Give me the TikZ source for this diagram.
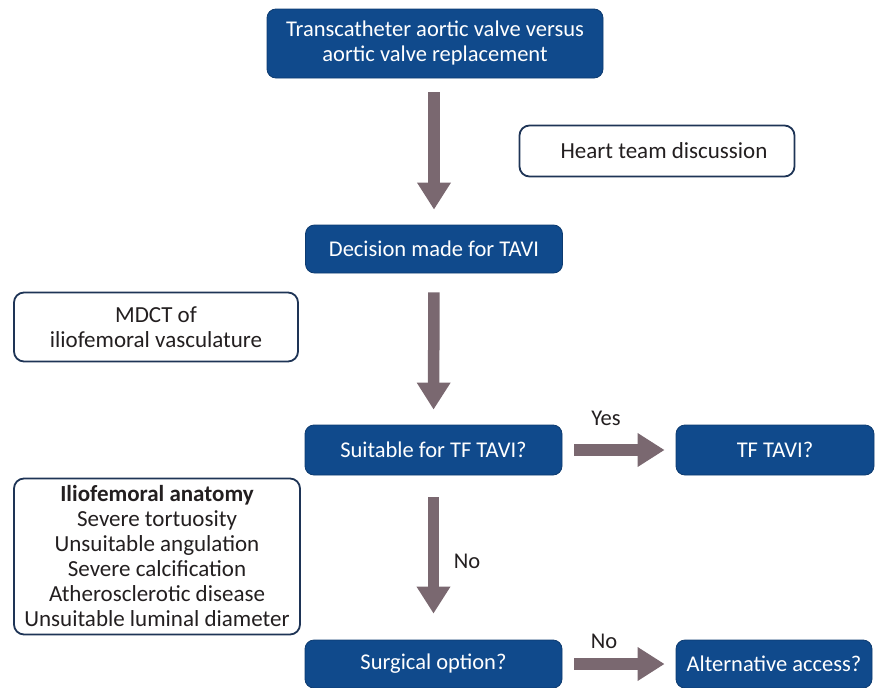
\documentclass[tikz,border=0pt]{standalone}
\usepackage{fontspec}
\setmainfont{Carlito}
\usetikzlibrary{arrows.meta}
\definecolor{boxblue}{RGB}{16,74,140}
\definecolor{navy}{RGB}{30,52,86}
\definecolor{arrgrey}{RGB}{122,104,112}
\definecolor{txt}{RGB}{35,31,32}
\tikzset{
  bluebox/.style={draw=boxblue!80!black, line width=0.8pt, fill=boxblue, rounded corners=9pt, text=white, align=center, inner sep=0pt, font=\fontsize{22.5}{25}\selectfont},
  whitebox/.style={draw=navy, line width=1.8pt, fill=white, rounded corners=10pt, text=txt, align=center, inner sep=0pt, font=\fontsize{23}{25}\selectfont},
  bigarrow/.style={draw=arrgrey, line width=11.5pt, -{Triangle[width=32pt,length=27pt]}},
  lbl/.style={text=txt, font=\fontsize{22.5}{25}\selectfont, inner sep=0pt}
}
\begin{document}
\begin{tikzpicture}[x=1pt,y=-1pt]
\useasboundingbox (0,0) rectangle (876,688);
\node[bluebox, minimum width=336pt, minimum height=69pt] (top) at (435,43.5) {Transcatheter aortic valve versus\\aortic valve replacement};
\node[whitebox, minimum width=275pt, minimum height=51pt] (heart) at (657,151) {\hspace*{14pt}Heart team discussion};
\node[bluebox, minimum width=257pt, minimum height=48pt] (dec) at (434,249) {Decision made for TAVI};
\node[whitebox, minimum width=284pt, minimum height=69pt] (mdct) at (156,327) {MDCT of\\iliofemoral vasculature};
\node[bluebox, minimum width=257pt, minimum height=50pt] (suit) at (433.5,450) {Suitable for TF TAVI?};
\node[bluebox, minimum width=198pt, minimum height=50pt] (tf) at (775,450) {TF TAVI?};
\node[whitebox, minimum width=286pt, minimum height=156pt] (ilio) at (157,556.5) {\textbf{Iliofemoral anatomy}\\Severe tortuosity\\Unsuitable angulation\\Severe calcification\\Atherosclerotic disease\\Unsuitable luminal diameter};
\node[bluebox, minimum width=257pt, minimum height=48pt] (surg) at (433.5,664) {Surgical option?};
\node[bluebox, minimum width=196pt, minimum height=48pt] (alt) at (774,664) {Alternative access?};
\draw[bigarrow, shorten <=14pt, shorten >=15pt] (top.south -| dec.north) -- (dec.north);
\draw[bigarrow, shorten <=19pt, shorten >=15pt] (dec.south) -- (suit.north);
\draw[bigarrow, shorten <=22pt, shorten >=26pt] (suit.south) -- (surg.north);
\draw[bigarrow, shorten <=12pt, shorten >=11pt] (suit.east) -- (suit.east -| tf.west);
\draw[bigarrow, shorten <=12pt, shorten >=11pt] (surg.east) -- (surg.east -| alt.west);
\node[lbl] (yes) at (606,418) {Yes};
\node[lbl] (no1) at (467,561) {No};
\node[lbl] (no2) at (604,641) {No};
\end{tikzpicture}
\end{document}
